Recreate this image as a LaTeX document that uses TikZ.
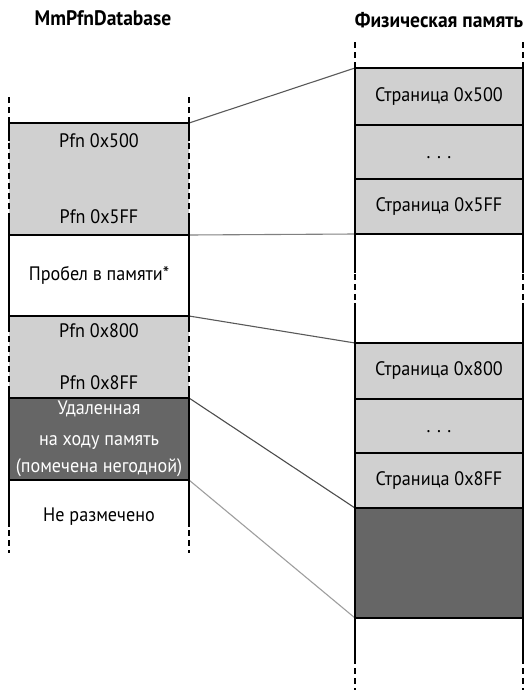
\documentclass[tikz,border=0pt]{standalone}
\usepackage{fontspec}
\setmainfont[FakeStretch=0.93]{PT Sans}
\usetikzlibrary{positioning}
\definecolor{pagegray}{HTML}{D0D0D0}
\definecolor{badgray}{HTML}{666666}
\tikzset{
  cell/.style={
    rectangle, inner sep=0pt, outer sep=0pt,
    align=center, font=\fontsize{19.5}{23}\selectfont
  },
  lcol/.style={cell, minimum width=180pt},
  rcol/.style={cell, minimum width=168pt},
  pagecell/.style={fill=pagegray},
  dotcell/.style={pagecell, text height=12pt, text depth=0pt},
  badcell/.style={fill=badgray, text=white},
  title/.style={font=\fontsize{21}{25}\selectfont\bfseries},
  border/.style={line width=1.4pt, black},
  side/.style={line width=1.2pt, black},
  cont/.style={line width=1.2pt, black, dash pattern=on 6pt off 4pt},
  link/.style={line width=1.1pt}
}

\begin{document}
\begin{tikzpicture}[x=1pt, y=-1pt]
  \useasboundingbox (0,0) rectangle (526,691);

  \node[title] (ltitle) at (103,18) {MmPfnDatabase};
  \node[title] (rtitle) at (439,20) {Физическая память};

  % PFN database column
  \node[lcol, pagecell, minimum height=112pt, anchor=north] (lpfn5) at (99,123)
    {Pfn 0x500\\[53pt]Pfn 0x5FF};
  \node[lcol, minimum height=81pt] (lhole) [below=0pt of lpfn5] {Пробел в памяти*};
  \node[lcol, pagecell, minimum height=82pt] (lpfn8) [below=0pt of lhole]
    {Pfn 0x800\\[29pt]Pfn 0x8FF};
  \node[lcol, badcell, minimum height=82pt] (lbad) [below=0pt of lpfn8]
    {Удаленная\\[8pt]на ходу память\\[4pt](помечена негодной)};
  \node[lcol, minimum height=73pt] (lfree) [below=0pt of lbad] {Не размечено};

  % physical memory column
  \node[rcol, pagecell, minimum height=57pt, anchor=north] (rpg500) at (439,68) {Страница 0x500};
  \node[rcol, dotcell, minimum height=54pt] (rdots5) [below=0pt of rpg500] {. . .};
  \node[rcol, pagecell, minimum height=55pt] (rpg5ff) [below=0pt of rdots5] {Страница 0x5FF};
  \node[rcol, minimum height=109pt] (rhole) [below=0pt of rpg5ff] {};
  \node[rcol, pagecell, minimum height=56pt] (rpg800) [below=0pt of rhole] {Страница 0x800};
  \node[rcol, dotcell, minimum height=54pt] (rdots8) [below=0pt of rpg800] {. . .};
  \node[rcol, pagecell, minimum height=55pt] (rpg8ff) [below=0pt of rdots8] {Страница 0x8FF};
  \node[rcol, badcell, minimum height=110pt] (rbad) [below=0pt of rpg8ff] {};
  \node[rcol, minimum height=72pt] (rfree) [below=0pt of rbad] {};

  % mapping lines
  \draw[link, color=black!65] (lpfn5.north east) -- (rpg500.north west);
  \draw[link, color=black!50] (lpfn5.south east) -- (rpg5ff.south west);
  \draw[link, color=black!65] (lpfn8.north east) -- (rpg800.north west);
  \draw[link, color=black!70] (lbad.north east) -- (rbad.north west);
  \draw[link, color=black!38] (lbad.south east) -- (rbad.south west);

  % cell edges
  \foreach \c in {lpfn5, lhole, lpfn8, lbad, lfree, rpg500, rdots5, rpg5ff, rhole, rpg800, rdots8, rpg8ff, rbad, rfree}
    \draw[border] (\c.north west) -- (\c.north east);
  \foreach \c in {lhole, lbad, rpg500, rdots5, rpg5ff, rpg800, rdots8, rpg8ff, rbad}
    \foreach \s in {west, east}
      \draw[side] (\c.north \s) -- (\c.south \s);
  \foreach \c/\t/\b in {lpfn5/18/20, lpfn8/13/8, rhole/39/40, lfree/47/0, rfree/45/0}
    \foreach \s in {west, east} {
      \draw[cont] (\c.north \s) -- (\c.south \s);
      \draw[side] (\c.north \s) -- ++(0,\t) (\c.south \s) -- ++(0,-\b);
    }
  \foreach \s in {west, east} {
    \draw[cont] (lpfn5.north \s) -- ++(0,-26);
    \draw[cont] (rpg500.north \s) -- ++(0,-26);
  }
\end{tikzpicture}
\end{document}
